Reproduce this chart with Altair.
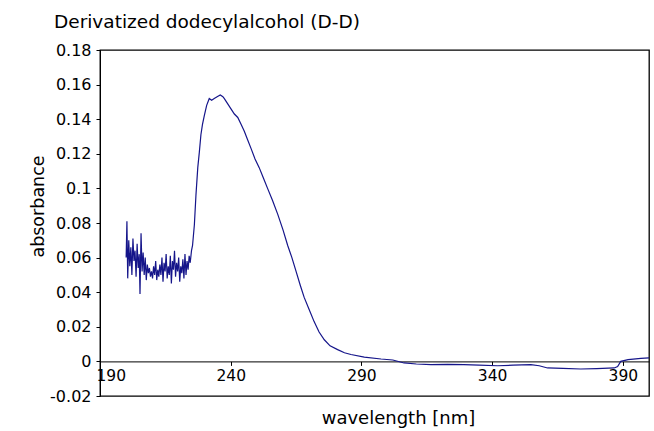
import altair as alt
import pandas as pd

# ---- data ----
noise_nm = [200.0, 200.3, 200.6, 201.0, 201.4, 201.8, 202.2, 202.6, 203.0, 203.4,
            203.8, 204.2, 204.6, 205.0, 205.3, 205.7, 206.1, 206.5, 206.9, 207.3,
            207.7, 208.1, 208.5, 208.9, 209.3, 209.7, 210.1, 210.5, 210.9, 211.3,
            211.7, 212.1, 212.5, 212.9, 213.3, 213.7, 214.1, 214.5, 214.9, 215.3,
            215.7, 216.1, 216.5, 216.9, 217.3, 217.7, 218.1, 218.5, 218.9, 219.3,
            219.7, 220.1, 220.5, 220.9, 221.3, 221.7, 222.1, 222.5, 222.9, 223.3,
            223.7, 224.1, 224.5]
noise_abs = [0.060, 0.081, 0.048, 0.070, 0.055, 0.066, 0.050, 0.071, 0.058, 0.064,
             0.049, 0.068, 0.054, 0.062, 0.039, 0.074, 0.052, 0.063, 0.050, 0.060,
             0.047, 0.056, 0.051, 0.054, 0.049, 0.052, 0.048, 0.055, 0.050, 0.058,
             0.047, 0.053, 0.049, 0.056, 0.050, 0.060, 0.046, 0.057, 0.052, 0.062,
             0.048, 0.055, 0.050, 0.061, 0.045, 0.058, 0.053, 0.064, 0.049, 0.057,
             0.052, 0.060, 0.046, 0.055, 0.051, 0.059, 0.048, 0.062, 0.050, 0.058,
             0.053, 0.061, 0.057]

curve_nm = [225.0, 225.4, 226.1, 226.7, 227.4, 228.0, 228.6, 229.2, 229.9, 230.8,
            231.8, 232.7, 233.7, 234.8, 236.0, 237.0, 237.5, 238.8, 240.1, 241.4,
            242.7, 244.0, 245.2, 246.5, 247.8, 249.3, 250.9, 252.5, 254.1, 256.0,
            258.0, 260.0, 261.8, 263.4, 265.0, 266.6, 268.1, 270.0, 271.9, 273.8,
            275.8, 278.0, 280.9, 283.5, 286.0, 291.1, 297.5, 302.0, 306.3, 311.0,
            316.6, 323.0, 329.2, 335.0, 342.1, 348.0, 354.8, 358.0, 361.2, 367.0,
            373.9, 380.0, 386.7, 388.0, 389.2, 392.0, 396.9, 400.0]
curve_abs = [0.064, 0.067, 0.079, 0.096, 0.112, 0.121, 0.131, 0.137, 0.142, 0.148,
             0.152, 0.151, 0.152, 0.153, 0.154, 0.153, 0.152, 0.149, 0.146, 0.143,
             0.141, 0.137, 0.133, 0.128, 0.123, 0.117, 0.112, 0.106, 0.100, 0.093,
             0.085, 0.076, 0.067, 0.060, 0.052, 0.044, 0.037, 0.030, 0.023, 0.017,
             0.0125, 0.009, 0.0068, 0.005, 0.004, 0.0025, 0.0014, 0.0008, -0.0009, -0.0015,
             -0.0019, -0.0017, -0.0019, -0.0022, -0.0025, -0.0022, -0.0019, -0.0025, -0.0038, -0.0040,
             -0.0044, -0.0042, -0.0038, -0.0030, 0.0, 0.001, 0.0018, 0.002]

x_ticks = [190, 240, 290, 340, 390]
y_ticks = [-0.02, 0.0, 0.02, 0.04, 0.06, 0.08, 0.10, 0.12, 0.14, 0.16, 0.18]

df = pd.DataFrame({"nm": noise_nm + curve_nm, "abs": noise_abs + curve_abs})

FONT = "DejaVu Sans"
x_scale = alt.Scale(domain=[190, 400], nice=False, zero=False)
y_scale = alt.Scale(domain=[-0.02, 0.18], nice=False, zero=False)

chart = alt.Chart(df).mark_line(color="#15158a", strokeWidth=1.2).encode(
    x=alt.X("nm:Q", scale=x_scale,
            axis=alt.Axis(values=x_ticks, offset=-34.6, title="wavelength [nm]",
                          ticks=True, tickSize=4, tickColor="black",
                          grid=False, domainColor="black", domainWidth=1,
                          labelFont=FONT, labelFontSize=15.5, labelColor="black",
                          labelPadding=3, labelFlush=True, labelFlushOffset=4,
                          labelOverlap=False,
                          titleFont=FONT, titleFontSize=18, titleFontWeight="normal",
                          titleColor="black", titleX=298, titleY=62,
                          titleBaseline="alphabetic", titleAlign="center")),
    y=alt.Y("abs:Q", scale=y_scale,
            axis=alt.Axis(values=y_ticks, title="absorbance", grid=False,
                          tickSize=4, tickColor="black", domainColor="black",
                          labelFont=FONT, labelFontSize=16, labelColor="black",
                          labelPadding=5, labelOverlap=False, labelFlush=False,
                          labelExpr="datum.value < 0 ? '-' + format(-datum.value, '.2~f') : format(datum.value, '.2~f')",
                          titleFont=FONT, titleFontSize=17.5, titleFontWeight="normal",
                          titleColor="black", titleX=-57, titleY=156,
                          titleBaseline="alphabetic", titleAlign="center", titleAngle=270)),
).properties(
    width=549,
    height=346,
    autosize=alt.AutoSizeParams(type="none"),
    padding={"left": 100, "top": 50, "right": 5, "bottom": 35},
    background="white",
    title=alt.TitleParams("Derivatized dodecylalcohol (D-D)", anchor="start", frame="group",
                          dx=-46, offset=11, font=FONT, fontSize=18.5, fontWeight="normal",
                          color="black"),
).configure_view(stroke="black", strokeWidth=1.3)

chart.save("out.html", embed_options={"renderer": "svg", "actions": False})
